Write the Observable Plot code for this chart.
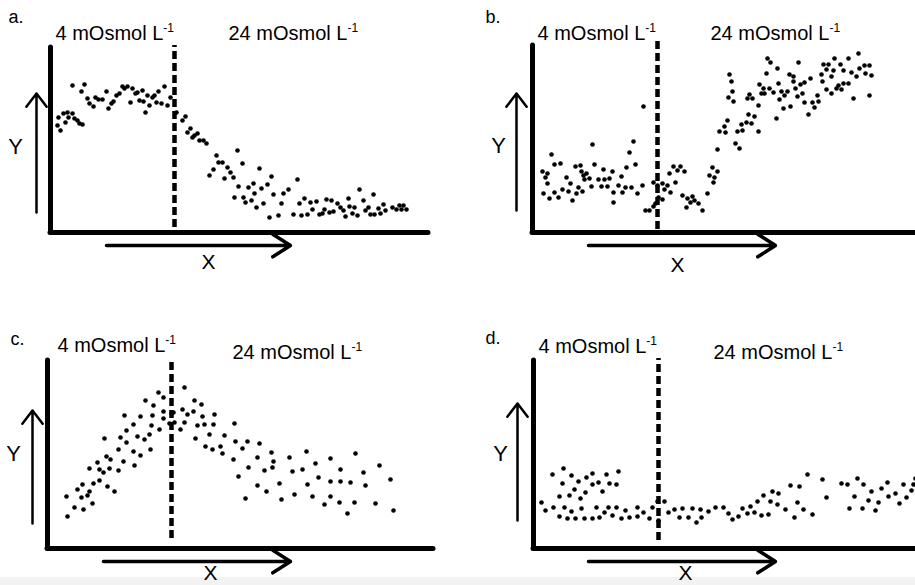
<!DOCTYPE html>
<html>
<head>
<meta charset="utf-8">
<script src="https://cdn.jsdelivr.net/npm/d3@7"></script>
<script src="https://cdn.jsdelivr.net/npm/@observablehq/plot@0.6"></script>
<style>
  html, body { margin: 0; padding: 0; background: #ffffff; }
  #chart { position: relative; width: 915px; height: 585px; overflow: hidden; background: #ffffff; }
  #band { position: absolute; left: 0; top: 577px; width: 915px; height: 8px; background: #f2f2f2; }
  .panel { position: absolute; overflow: visible; }
</style>
</head>
<body>
<div id="chart"><div id="band"></div></div>
<script>
// ---- Text ----
const panelLetters = ["a.", "b.", "c.", "d."];
const conditionLabels = ["4 mOsmol L-1", "24 mOsmol L-1"];
const axisNames = ["Y", "X"];

// ---- Data (x = time after start, y = response; arbitrary units) ----
const panelA = [
  [8,115],[7,107],[10,102],[13,119],[15,110],[17,120],[18,115],[22,119],[24,114],[27,112],[29,109],[32,108],
  [22,147],[34,148],[31,141],[37,134],[39,129],[43,126],[45,135],[48,133],[52,133],[56,141],[58,124],[61,129],
  [63,131],[66,137],[69,139],[72,146],[74,144],[77,146],[80,130],[82,144],[85,139],[87,140],[89,132],[92,142],
  [93,131],[95,120],[97,137],[99,127],[102,135],[104,137],[106,130],[108,141],[111,129],[114,146],[117,127],[120,135],
  [126,120],[132,112],[135,116],[137,100],[140,104],[142,95],[144,97],[147,99],[149,92],[153,92],[156,89],[159,57],
  [163,63],[166,77],[168,70],[172,70],[174,54],[177,65],[180,60],[183,55],[184,35],[187,82],[188,46],
  [192,69],[193,35],[195,30],[198,45],[201,32],[203,49],[204,39],[206,25],[209,64],[211,44],[213,29],[217,48],
  [219,15],[221,56],[223,38],[228,17],[231,29],[233,39],[238,43],[243,18],[247,53],[249,29],[251,17],[254,34],
  [257,18],[260,30],[262,23],[266,31],[269,18],[272,19],[274,23],[276,33],[279,20],[281,32],[283,21],[287,29],
  [290,25],[293,22],[295,16],[298,34],[299,26],[302,19],[304,25],[307,17],[309,43],[313,32],[315,22],[318,25],
  [320,18],[323,38],[324,18],[328,24],[330,19],[333,28],[335,22],[342,25],[346,23],[349,27],[351,23],[353,27],[356,23]
];
const panelB = [
  [10,61],[13,55],[15,59],[15,49],[11,39],[17,34],[19,78],[22,68],[22,40],[26,35],[28,69],[30,43],[34,55],[36,41],
  [38,49],[40,32],[43,66],[44,39],[46,45],[48,67],[49,61],[51,57],[50,41],[52,53],[54,59],[57,54],[59,46],[60,88],
  [62,68],[66,53],[69,46],[71,63],[72,53],[75,46],[77,54],[80,61],[81,40],[81,30],[86,47],[89,56],[90,40],[93,45],
  [94,65],[97,80],[99,45],[101,91],[103,68],[105,39],[110,47],[111,126],[113,22],[117,22],[121,26],[121,50],[123,29],
  [125,47],[126,35],[130,49],[130,33],[132,43],[135,47],[137,59],[138,40],[141,66],[143,50],[145,62],[148,66],[150,37],
  [152,61],[154,25],[155,34],[158,30],[160,36],[162,32],[166,29],[170,22],[175,39],[177,57],[180,65],[181,50],[182,55],
  [185,61],[185,83],[187,101],[193,100],[192,106],[195,112],[197,158],[199,151],[200,141],[196,135],[201,131],[203,89],
  [207,84],[205,101],[209,108],[210,102],[214,110],[216,118],[215,134],[217,138],[219,109],[220,134],[222,116],[226,127],
  [226,101],[227,148],[229,139],[231,144],[232,139],[235,174],[237,144],[238,170],[234,159],[241,140],[244,114],[245,164],
  [246,149],[247,133],[249,141],[251,124],[252,137],[255,141],[257,158],[258,126],[261,156],[261,151],[263,144],[265,136],
  [266,170],[268,148],[270,139],[272,150],[272,130],[276,118],[278,154],[280,130],[282,125],[285,137],[286,131],[289,158],
  [290,151],[291,168],[294,143],[294,163],[296,168],[299,156],[299,139],[301,162],[302,174],[304,144],[306,147],[308,168],
  [309,143],[311,149],[311,162],[316,149],[316,174],[319,160],[321,134],[324,156],[326,179],[327,164],[332,167],[333,159],
  [337,167],[337,137],[339,157]
];
const panelC = [
  [20,32],[19,52],[27,41],[30,59],[34,51],[35,64],[36,39],[40,53],[42,57],[45,45],[42,80],[46,65],[50,86],[52,68],
  [52,79],[56,76],[57,110],[59,92],[60,62],[62,80],[63,89],[67,57],[71,78],[71,99],[73,111],[76,87],[77,133],[79,106],
  [79,118],[86,124],[86,97],[87,83],[90,112],[93,93],[93,132],[97,109],[98,148],[102,114],[103,99],[104,123],[105,133],
  [106,143],[111,156],[112,119],[116,151],[116,137],[116,130],[122,125],[124,135],[126,136],[127,126],[133,119],[135,139],
  [137,161],[137,126],[140,134],[146,137],[147,148],[148,110],[150,123],[154,144],[155,132],[157,124],[158,102],[162,114],
  [166,124],[165,99],[167,134],[173,102],[175,95],[177,113],[186,89],[187,125],[188,107],[191,72],
  [195,100],[198,50],[200,107],[201,81],[210,91],[210,63],[212,105],[217,78],[219,57],[224,96],[226,87],[225,81],
  [232,65],[234,49],[242,91],[245,77],[247,54],[255,79],[259,97],[260,64],[265,52],[268,85],[271,71],[277,44],
  [283,90],[283,67],[283,52],[292,46],[293,79],[293,67],[300,35],[303,66],[307,46],[308,95],[316,76],[318,63],
  [328,45],[332,83],[343,69],[346,38]
];
const panelD = [
  [8,46],[12,38],[19,74],[20,41],[26,32],[26,52],[29,65],[30,80],[31,41],[34,30],[36,53],[38,73],[38,37],[41,59],
  [42,30],[45,67],[47,50],[48,40],[51,30],[52,56],[53,71],[59,30],[59,75],[59,64],[63,41],[65,66],[66,31],[69,57],
  [71,36],[73,74],[75,41],[76,65],[79,33],[83,41],[83,64],[85,77],[88,30],[92,38],[96,31],[104,41],[104,32],[110,36],
  [116,30],[119,41],[124,47],[125,28],[131,47],[135,36],[141,39],[146,31],[149,40],[155,31],[159,40],[163,26],[167,39],
  [168,31],[175,37],[182,41],[190,41],[195,35],[199,29],[205,32],[209,40],[214,35],[217,42],[221,36],[224,47],[228,33],
  [230,53],[235,34],[237,47],[239,57],[244,44],[245,55],[252,39],[257,63],[261,31],[264,46],[266,62],[270,39],[274,74],
  [279,34],[289,69],[293,51],[308,65],[314,64],[316,40],[321,52],[324,70],[329,40],[330,64],[335,48],[338,57],[342,38],
  [345,46],[348,60],[354,66],[355,52],[362,55],[366,45],[370,64],[373,51],[378,58],[380,64],[382,70]
];

// ---- Layout per panel (page box, axis origin, annotation anchors) ----
const layouts = [
  {dots: panelA, left: 0, top: 0, width: 457, height: 290, ox: 50, oy: 232, yTop: 185, xEnd: 378,
   dash: {x: 124, y1: 5, y2: 187}, yArrow: {x1: -14, y1: 20, x2: -14, y2: 139}, xArrow: {x1: 56, y1: -13, x2: 240, y2: -13},
   letter: {x: -42, y: 215}, cond: [{x: 5, y: 193}, {x: 178, y: 193}], yName: {x: -35, y: 86}, xName: {x: 158, y: -30}},
  {dots: panelB, left: 457, top: 0, width: 458, height: 290, ox: 532, oy: 232, yTop: 187, xEnd: 420,
   dash: {x: 125, y1: 3, y2: 193}, yArrow: {x1: -16, y1: 22, x2: -16, y2: 139}, xArrow: {x1: 56, y1: -13, x2: 243, y2: -13},
   letter: {x: -47, y: 215}, cond: [{x: 5, y: 193}, {x: 178, y: 193}], yName: {x: -34, y: 87}, xName: {x: 145, y: -33}},
  {dots: panelC, left: 0, top: 290, width: 457, height: 295, ox: 47, oy: 548, yTop: 188, xEnd: 386,
   dash: {x: 124, y1: 10, y2: 190}, yArrow: {x1: -15, y1: 25, x2: -15, y2: 138}, xArrow: {x1: 56, y1: -13, x2: 243, y2: -13},
   letter: {x: -37, y: 209}, cond: [{x: 10, y: 197}, {x: 185, y: 190}], yName: {x: -34, y: 95}, xName: {x: 163, y: -25}},
  {dots: panelD, left: 457, top: 290, width: 458, height: 295, ox: 533, oy: 548, yTop: 188, xEnd: 420,
   dash: {x: 125, y1: 8, y2: 190}, yArrow: {x1: -16, y1: 28, x2: -16, y2: 145}, xArrow: {x1: 55, y1: -13, x2: 242, y2: -13},
   letter: {x: -48, y: 210}, cond: [{x: 5, y: 196}, {x: 180, y: 190}], yName: {x: -33, y: 95}, xName: {x: 152, y: -25}}
];

const FONT = "'Liberation Sans', Arial, Helvetica, sans-serif";
const chart = document.getElementById("chart");

layouts.forEach((L, i) => {
  const W = L.width, H = L.height;
  const condData = conditionLabels.map((t, k) => ({text: t, x: L.cond[k].x, y: L.cond[k].y}));
  const svg = Plot.plot({
    width: W, height: H, margin: 0,
    x: {domain: [L.left - L.ox, L.left + W - L.ox], range: [0, W], axis: null},
    y: {domain: [L.oy - (L.top + H), L.oy - L.top], range: [H, 0], axis: null},
    style: {background: "transparent", fontFamily: FONT, overflow: "visible", color: "black"},
    marks: [
      Plot.ruleX([0], {y1: 0, y2: L.yTop, stroke: "black", strokeWidth: 5, strokeLinecap: "round"}),
      Plot.ruleY([0], {x1: 0, x2: L.xEnd, stroke: "black", strokeWidth: 5, strokeLinecap: "round"}),
      Plot.ruleX([L.dash.x], {y1: L.dash.y1, y2: L.dash.y2, stroke: "black", strokeWidth: 4.5, strokeDasharray: "8,4"}),
      Plot.dot(L.dots, {x: d => d[0], y: d => d[1], r: 2.3, fill: "black"}),
      Plot.arrow([L.yArrow], {x1: "x1", y1: "y1", x2: "x2", y2: "y2", stroke: "black", strokeWidth: 2.5, headLength: 10, headAngle: 75}),
      Plot.arrow([L.xArrow], {x1: "x1", y1: "y1", x2: "x2", y2: "y2", stroke: "black", strokeWidth: 3.5, headLength: 9, headAngle: 65}),
      Plot.text([panelLetters[i]], {x: L.letter.x, y: L.letter.y, text: d => d, textAnchor: "start", lineAnchor: "middle", fontSize: 18, fill: "black"}),
      Plot.text(condData, {x: "x", y: "y", text: "text", textAnchor: "start", lineAnchor: "bottom", fontSize: 20, fill: "black"}),
      Plot.text([axisNames[0]], {x: L.yName.x, y: L.yName.y, text: d => d, textAnchor: "middle", lineAnchor: "middle", fontSize: 22, fill: "black"}),
      Plot.text([axisNames[1]], {x: L.xName.x, y: L.xName.y, text: d => d, textAnchor: "middle", lineAnchor: "middle", fontSize: 21, fill: "black"})
    ]
  });
  // superscript "-1" in unit labels
  svg.querySelectorAll("text").forEach(t => {
    if (t.children.length === 0 && /L-1$/.test(t.textContent)) {
      const s = t.textContent;
      t.textContent = s.slice(0, -2);
      const ts = document.createElementNS("http://www.w3.org/2000/svg", "tspan");
      ts.setAttribute("dy", "-8");
      ts.setAttribute("font-size", "12");
      ts.textContent = "-1";
      t.appendChild(ts);
    }
  });
  const div = document.createElement("div");
  div.className = "panel";
  div.style.left = L.left + "px";
  div.style.top = L.top + "px";
  div.style.width = W + "px";
  div.style.height = H + "px";
  div.appendChild(svg);
  chart.appendChild(div);
});
</script>
</body>
</html>
